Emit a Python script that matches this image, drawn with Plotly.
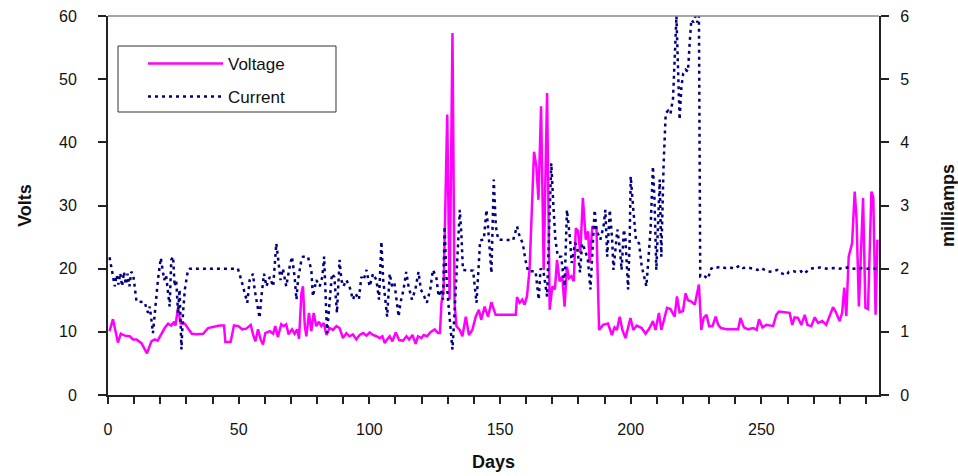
import plotly.graph_objects as go

# ---- data ----
volt_days = [0.6, 1.9, 3.8, 4.9, 6.4, 8.3, 9.6, 10.9, 12.8, 14.0, 14.9, 16.6, 17.9, 19.0, 20.4, 21.7, 23.0,
             24.2, 25.3, 25.8, 26.8, 27.8, 29.3, 30.6, 32.1, 33.9, 36.4, 38.3, 40.8, 42.7, 44.4, 44.9, 46.9,
             48.2, 49.9, 51.3, 52.9, 54.6, 55.5, 56.4, 57.4, 58.4, 59.3, 60.2, 61.9, 63.2, 64.0, 65.0, 66.3,
             67.2, 68.2, 69.1, 70.4, 71.4, 72.4, 73.1, 74.0, 74.6, 75.3, 75.9, 76.9, 77.8, 78.7, 79.7, 80.7,
             81.6, 82.5, 83.6, 84.8, 86.1, 87.4, 88.6, 89.9, 91.2, 92.4, 93.7, 95.0, 96.3, 97.6, 98.9, 100.1,
             101.4, 102.7, 104.0, 105.0, 105.9, 106.8, 107.8, 108.8, 110.1, 111.4, 112.9, 114.2, 115.2, 116.5,
             117.7, 118.6, 119.9, 120.8, 122.1, 123.3, 125.0, 126.3, 127.0, 127.6, 128.4, 129.8, 130.7, 131.8,
             132.6, 133.3, 134.6, 135.6, 136.9, 138.1, 139.4, 140.7, 141.9, 142.8, 144.1, 145.4, 146.7, 148.3,
             156.0, 156.5, 157.5, 158.5, 159.4, 160.3, 161.3, 163.0, 163.9, 164.7, 165.7, 166.7, 168.0, 169.0,
             170.0, 171.0, 171.8, 172.8, 173.8, 174.7, 175.6, 176.4, 177.3, 178.2, 179.0, 179.8, 180.7, 181.7,
             182.8, 183.7, 184.3, 185.3, 186.1, 186.9, 187.9, 189.4, 191.3, 192.8, 193.8, 194.7, 195.8, 196.8,
             198.0, 199.9, 201.0, 202.3, 204.2, 205.7, 207.2, 208.5, 209.5, 210.8, 211.7, 212.6, 213.9, 215.2,
             216.8, 217.7, 218.7, 220.0, 221.0, 221.9, 223.2, 224.5, 225.4, 226.1, 227.0, 227.9, 229.0, 230.0,
             231.3, 232.5, 233.5, 234.5, 236.7, 241.1, 242.0, 243.3, 244.9, 246.9, 248.2, 249.1, 250.4, 251.9,
             254.5, 255.7, 256.7, 260.8, 261.8, 262.7, 264.0, 265.3, 266.6, 267.6, 269.1, 270.4, 271.7, 273.3,
             274.8, 276.4, 277.4, 278.4, 279.9, 280.9, 281.7, 282.5, 283.4, 284.7, 285.7, 286.4, 287.3, 288.9,
             289.8, 290.8, 292.1, 292.8, 293.7, 294.4]
voltage = [10.1, 12.0, 8.3, 9.7, 9.4, 9.3, 8.8, 8.8, 8.2, 7.4, 6.6, 8.5, 8.8, 8.6, 9.7, 10.6, 11.3,
           11.0, 11.6, 11.0, 13.8, 11.3, 11.3, 10.6, 9.7, 9.6, 9.7, 10.6, 10.8, 11.0, 11.0, 8.4, 8.4,
           11.0, 10.9, 10.4, 10.5, 11.1, 9.6, 8.5, 10.4, 8.8, 8.0, 9.8, 10.1, 9.7, 10.9, 9.2, 11.2,
           10.9, 11.2, 9.6, 10.4, 9.7, 10.4, 8.9, 16.1, 17.2, 10.9, 9.3, 13.0, 10.1, 13.0, 10.9, 11.6,
           10.9, 11.4, 9.5, 10.6, 10.3, 10.9, 10.6, 9.0, 9.8, 9.3, 9.6, 8.8, 9.5, 9.8, 9.4, 9.9,
           9.5, 9.3, 9.0, 9.3, 8.2, 8.8, 9.3, 8.5, 9.9, 8.7, 8.6, 9.3, 8.8, 9.5,
           8.1, 9.3, 9.0, 9.5, 9.3, 9.9, 10.4, 9.8, 9.8, 14.6, 16.7, 44.4, 15.1, 57.3,
           14.6, 10.9, 10.3, 9.3, 12.4, 9.5, 10.3, 12.4, 13.5, 11.9, 14.0, 12.4, 14.7, 12.7,
           12.7, 15.5, 14.6, 15.1, 14.3, 15.6, 19.8, 38.5, 36.2, 30.9, 45.7, 19.8, 47.8, 13.5,
           17.2, 16.7, 21.4, 18.0, 18.8, 14.0, 20.3, 18.5, 18.8, 18.0, 26.4, 26.0, 22.5, 31.2,
           24.6, 25.9, 20.9, 26.7, 26.4, 26.4, 10.3, 11.1, 11.3, 9.5, 10.7, 10.3, 12.4, 10.3,
           9.0, 12.2, 10.3, 11.0, 10.6, 9.7, 10.6, 11.7, 10.3, 13.0, 10.3, 11.7, 13.8, 13.6,
           12.4, 15.6, 13.1, 13.3, 16.1, 15.0, 14.8, 14.3, 16.1, 17.5, 10.3, 12.2, 12.7, 10.9,
           10.9, 12.4, 11.1, 10.6, 10.4, 10.4, 12.2, 10.7, 10.4, 10.6, 10.3, 12.0, 10.7, 11.1,
           10.9, 12.7, 13.2, 13.0, 11.1, 12.3, 12.2, 11.1, 12.7, 11.1, 10.9, 12.3, 11.4, 11.7,
           11.1, 12.7, 13.9, 13.2, 11.7, 13.0, 17.0, 12.5, 21.9, 24.0, 32.2, 28.0, 14.0, 31.2,
           13.8, 13.6, 32.2, 31.3, 12.7, 24.6]

curr_days = [0.6, 1.3, 2.6, 3.3, 4.0, 4.7, 5.4, 6.1, 6.8, 7.5, 8.2, 8.9, 9.6, 10.9, 14.0, 15.3, 16.0, 17.2,
             17.9, 18.6, 19.1, 20.2, 21.5, 22.2, 22.8, 23.6, 24.2, 24.9, 25.5, 26.1, 26.8, 27.4, 28.1, 28.7,
             29.4, 30.6, 31.3, 49.7, 51.0, 52.3, 53.3, 54.2, 55.5, 56.1, 57.1, 58.0, 58.7, 59.7, 60.6, 61.9,
             63.2, 64.4, 65.0, 66.0, 66.9, 68.2, 69.5, 70.4, 71.4, 72.1, 72.7, 74.0, 74.6, 76.5, 77.8, 78.4,
             79.7, 81.0, 82.0, 82.7, 83.8, 84.8, 85.7, 86.6, 87.6, 88.6, 89.3, 90.1, 91.2, 92.4, 93.7, 94.7,
             96.0, 96.9, 97.8, 98.9, 100.1, 101.4, 102.7, 103.7, 104.6, 105.3, 106.8, 107.8, 108.7, 109.6,
             110.6, 111.2, 111.9, 113.1, 114.1, 115.0, 116.3, 117.6, 118.8, 119.7, 121.0, 122.0, 123.3,
             124.3, 125.6, 126.5, 127.4, 128.2, 128.8, 129.4, 130.0, 130.6, 131.8, 132.6, 133.3, 134.6,
             135.2, 135.8, 139.7, 141.0, 142.4, 143.8, 144.8, 145.4, 146.7, 147.6, 148.4, 149.3, 155.0,
             156.5, 157.5, 158.7, 159.7, 160.7, 163.6, 164.8, 165.5, 166.6, 168.0, 169.6, 170.5, 171.2,
             172.1, 173.4, 174.7, 175.6, 176.8, 177.4, 178.7, 179.5, 180.6, 181.4, 182.5, 183.6, 184.6,
             185.6, 186.2, 186.9, 188.4, 189.6, 190.3, 191.0, 192.0, 192.9, 193.4, 194.9, 195.9, 196.5,
             197.4, 198.0, 199.0, 199.6, 200.0, 201.0, 202.0, 203.2, 204.2, 206.0, 206.7, 207.6, 208.5,
             209.1, 209.8, 210.4, 211.1, 211.7, 212.6, 213.4, 214.3, 215.2, 216.2, 217.5, 218.1, 218.7,
             219.4, 220.1, 221.0, 221.9, 222.6, 223.2, 224.0, 224.8, 225.5, 226.1, 226.6, 227.5, 228.3,
             229.5, 230.8, 232.0, 233.3, 234.5, 236.0, 238.0, 239.7, 241.7, 243.0, 244.5, 246.9, 248.5,
             250.0, 252.0, 254.0, 256.0, 257.5, 258.5, 259.6, 260.5, 262.3, 264.0, 265.2, 266.2, 267.5,
             268.7, 270.5, 272.7, 275.0, 277.7, 280.0, 282.8, 285.4, 288.0, 290.5, 293.0, 294.9]
current = [2.18, 2.03, 1.72, 1.90, 1.75, 1.93, 1.72, 1.95, 1.75, 1.92, 1.72, 1.95, 1.92, 1.48, 1.47, 1.30, 1.40, 0.98,
           1.30, 1.72, 1.82, 2.17, 1.82, 1.90, 1.67, 1.40, 2.14, 2.19, 1.72, 1.82, 1.30, 1.67, 0.72, 1.30,
           1.67, 1.98, 2.00, 2.00, 1.82, 1.61, 1.46, 1.82, 1.92, 1.67, 1.46, 1.22, 1.56, 1.92, 1.72, 1.87,
           1.72, 2.40, 2.19, 1.82, 2.00, 1.72, 2.03, 2.19, 1.87, 1.51, 1.82, 2.14, 2.19, 2.19, 1.98, 1.56,
           1.82, 1.72, 1.87, 2.19, 0.98, 1.56, 1.92, 1.87, 1.30, 2.14, 1.82, 1.72, 1.82, 1.72, 1.51, 1.61,
           1.51, 1.87, 1.82, 1.98, 1.72, 1.92, 1.82, 1.51, 2.43, 1.82, 1.24, 1.92, 1.72, 1.77,
           1.46, 1.24, 1.46, 1.67, 1.95, 1.72, 1.51, 1.67, 1.95, 1.67, 1.56, 1.46, 1.67,
           1.98, 1.87, 1.56, 1.67, 1.51, 2.67, 1.94, 1.56, 1.30, 0.72, 1.30, 1.82, 2.93,
           2.56, 1.98, 1.97, 1.46, 2.45, 2.46, 2.93, 2.67, 1.93, 3.41, 2.67, 2.46, 2.45,
           2.67, 2.51, 2.40, 2.14, 1.96, 1.96, 1.51, 2.00, 1.96, 1.56, 3.67, 2.93, 2.46,
           2.19, 2.19, 1.72, 2.93, 2.46, 2.09, 2.41, 2.35, 1.94, 2.40, 2.30, 2.14, 1.67,
           2.51, 2.93, 2.61, 2.46, 2.67, 2.93, 2.19, 2.93, 2.46, 1.98, 2.62, 2.30, 1.98,
           2.62, 2.46, 1.67, 2.46, 3.46, 2.93, 2.46, 2.40, 2.04, 1.72, 2.09, 2.62, 3.62,
           3.09, 1.98, 2.56, 3.41, 2.19, 3.67, 4.46, 4.50, 4.45, 4.70, 6.00, 5.00, 4.36,
           4.88, 5.09, 5.15, 5.12, 5.60, 5.94, 5.90, 6.00, 5.90, 6.00, 1.88, 1.90, 1.88,
           1.84, 2.00, 2.03, 2.02, 2.03, 2.01, 2.02, 2.00, 2.05, 2.01, 2.02, 2.00, 1.98,
           2.01, 1.96, 1.95, 1.98, 1.93, 1.92, 1.90, 1.95, 1.96, 1.94, 1.96, 1.92, 1.97,
           2.00, 2.01, 2.02, 2.00, 2.01, 2.00, 2.02, 2.00, 2.01, 2.00, 2.00, 2.00]

x_ticks_major = [0, 50, 100, 150, 200, 250]
volt_ticks = [0, 10, 20, 30, 40, 50, 60]
amp_ticks = [0, 1, 2, 3, 4, 5, 6]

FONT = "Arial, Liberation Sans, sans-serif"
AXC = "#222222"

fig = go.Figure()
fig.add_trace(go.Scatter(x=volt_days, y=voltage, name="Voltage", mode="lines", legendgroup="v",
                         line=dict(color="#FF00FF", width=2.5), yaxis="y"))
fig.add_trace(go.Scatter(x=curr_days, y=current, name="Current", mode="lines", legendgroup="c",
                         line=dict(color="#000080", width=2.5, dash="3px,4px"), yaxis="y2"))

fig.update_layout(
    width=958, height=476,
    margin=dict(l=108, r=79, t=16, b=81, autoexpand=False),
    paper_bgcolor="white", plot_bgcolor="white",
    font=dict(family=FONT, size=16, color="#111111"),
    showlegend=True,
    legend=dict(x=0.0454, y=0.921, xanchor="left", yanchor="top",
                borderwidth=0, bgcolor="rgba(0,0,0,0)",
                font=dict(size=17, family=FONT), itemwidth=75,
                traceorder="grouped", tracegroupgap=8),
    xaxis=dict(range=[0, 295], tickvals=x_ticks_major, ticks="outside", ticklen=7,
               tickcolor=AXC, tickwidth=1.5, automargin=False,
               minor=dict(dtick=10, tick0=0, ticks="outside", ticklen=7, tickcolor=AXC, tickwidth=1.5),
               showline=True, linecolor=AXC, linewidth=2, showgrid=False, zeroline=False,
               ticklabelstandoff=12,
               title=dict(text="Days", font=dict(size=18, family=FONT, weight="bold"), standoff=18)),
    xaxis2=dict(overlaying="x", matches="x", side="bottom", anchor="y", range=[0, 295],
                tickmode="linear", tick0=0, dtick=10, ticks="inside", ticklen=7, automargin=False,
                tickcolor=AXC, tickwidth=1.5, showticklabels=False, showgrid=False,
                zeroline=False, showline=False),
    yaxis=dict(range=[0, 60], tickvals=volt_ticks, ticks="outside", ticklen=8, automargin=False,
               tickcolor=AXC, tickwidth=1.5, showline=True, linecolor=AXC, linewidth=2,
               showgrid=False, zeroline=False, ticklabelstandoff=18,
               title=dict(text="Volts", font=dict(size=18, family=FONT, weight="bold"), standoff=23)),
    yaxis2=dict(range=[0, 6], tickvals=amp_ticks, ticks="outside", ticklen=8, overlaying="y",
                side="right", anchor="x", tickcolor=AXC, tickwidth=1.5, showline=True, automargin=False,
                linecolor=AXC, linewidth=2, showgrid=False, zeroline=False, ticklabelstandoff=8,
                title=dict(text="milliamps", font=dict(size=18, family=FONT, weight="bold"), standoff=42)),
    yaxis3=dict(range=[0, 60], tickvals=volt_ticks, ticks="inside", ticklen=7, overlaying="y",
                side="left", anchor="x", tickcolor=AXC, tickwidth=1.5, showticklabels=False,
                showgrid=False, zeroline=False, showline=False, automargin=False),
    yaxis4=dict(range=[0, 6], tickvals=amp_ticks, ticks="inside", ticklen=7, overlaying="y",
                side="right", anchor="x", tickcolor=AXC, tickwidth=1.5, showticklabels=False,
                showgrid=False, zeroline=False, showline=False, automargin=False),
    shapes=[
        dict(type="line", xref="paper", yref="paper", x0=0, x1=1, y0=1, y1=1,
             line=dict(color="#888888", width=1.5)),
        # legend frame
        dict(type="rect", xref="paper", yref="paper", x0=0.013, x1=0.2957, y0=0.7467, y1=0.9208,
             line=dict(color="#333333", width=1), fillcolor="white", layer="above"),
    ],
)

fig.write_html("out.html")
